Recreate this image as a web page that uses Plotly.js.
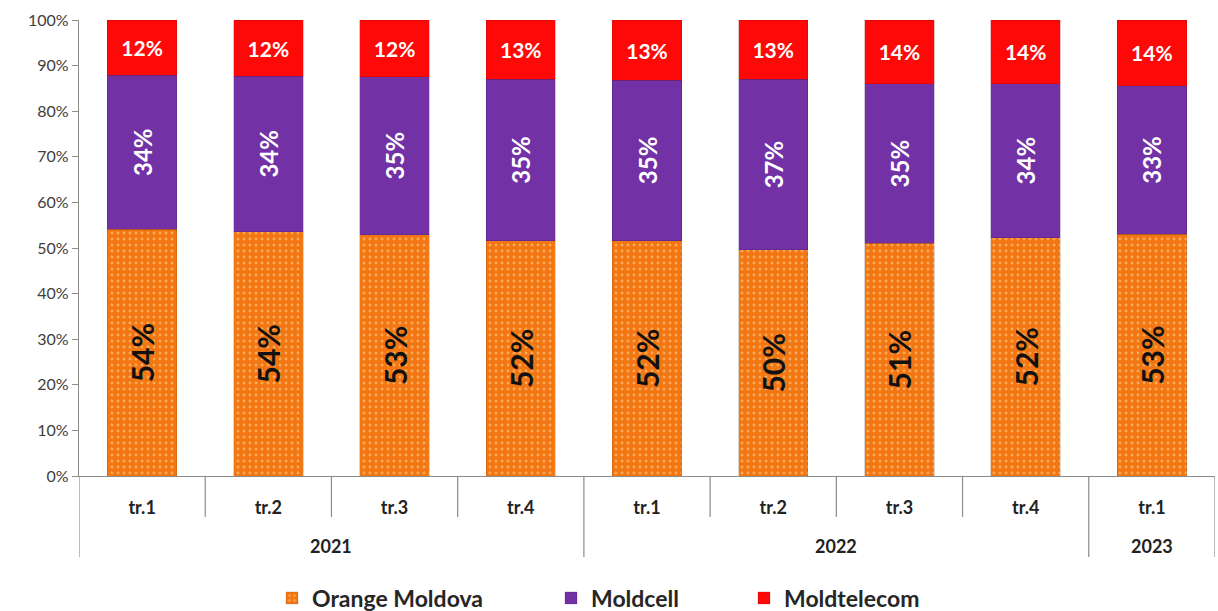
<!DOCTYPE html>
<html><head><meta charset="utf-8">
<script src="https://cdn.plot.ly/plotly-3.0.1.min.js"></script>
<style>html,body{margin:0;padding:0;background:#fff}#chart{width:1218px;height:611px}</style>
</head><body><div id="chart"></div>
<script>
// ---- data ----
const quarters = ['tr.1','tr.2','tr.3','tr.4','tr.1','tr.2','tr.3','tr.4','tr.1'];
const years = ['2021','2021','2021','2021','2022','2022','2022','2022','2023'];
const orangeMoldova = [54.1, 53.6, 52.9, 51.6, 51.6, 49.6, 51.0, 52.3, 53.0];
const moldcell = [33.8, 34.1, 34.7, 35.4, 35.2, 37.4, 35.0, 33.7, 32.6];
const moldtelecom = [12.1, 12.3, 12.4, 13.0, 13.2, 13.0, 14.0, 14.0, 14.4];
const seriesNames = ['Orange Moldova', 'Moldcell', 'Moldtelecom'];
const yTickValues = [0,10,20,30,40,50,60,70,80,90,100];

// ---- styles ----
const FONT = 'Lato, "Open Sans", sans-serif';
const colors = ['#f27612', '#7232a6', '#ff0808'];
const xIdx = quarters.map((_, i) => i);

const L = 79, R = 3, T = 20, B = 135, W = 1218, H = 611;
const pw = W - L - R, ph = H - T - B;
const px2x = p => (p - L) / pw;
const px2y = p => (H - B - p) / ph;

function barTrace(vals, k, angle, tcolor, tsize, legendId) {
  return {
    type: 'bar', x: xIdx, y: vals, name: seriesNames[k],
    legend: legendId,
    marker: { color: colors[k], line: { color: 'rgba(120,50,0,0.35)', width: 0.6 } },
    texttemplate: '%{y:.0f}%', textposition: 'inside', insidetextanchor: 'middle',
    textangle: angle,
    textfont: { family: FONT, size: tsize, color: tcolor, weight: 700 },
    hoverinfo: 'skip'
  };
}

const tr0 = barTrace(orangeMoldova, 0, -90, '#111', 30, 'legend');
tr0.marker.pattern = { shape: '.', fillmode: 'overlay', bgcolor: colors[0], fgcolor: '#ffc07a', fgopacity: 0.7, size: 6, solidity: 0.18 };
const tr1 = barTrace(moldcell, 1, -90, '#ffffff', 24, 'legend2');
tr1.marker.line = { color: 'rgba(60,20,100,0.4)', width: 0.6 };
const tr2 = barTrace(moldtelecom, 2, 0, '#ffffff', 21, 'legend3');
tr2.marker.line = { color: 'rgba(150,0,0,0.4)', width: 0.6 };

// ---- dividers & year labels (computed from category arrays) ----
const shapes = [];
const annotations = [];
const divCol = '#8c8c8c';
const qDepth = px2y(517), yDepth = px2y(557);
shapes.push({ type: 'line', xref: 'x', yref: 'paper', x0: -0.5, x1: -0.5, y0: 0, y1: yDepth, line: { color: divCol, width: 1.2 } });
for (let i = 1; i <= quarters.length; i++) {
  const yearBoundary = (i === quarters.length) || years[i] !== years[i - 1];
  shapes.push({ type: 'line', xref: 'x', yref: 'paper', x0: i - 0.5, x1: i - 0.5, y0: 0,
    y1: yearBoundary ? yDepth : qDepth, line: { color: divCol, width: 1.2 } });
}
let start = 0;
for (let i = 1; i <= years.length; i++) {
  if (i === years.length || years[i] !== years[start]) {
    annotations.push({ xref: 'x', yref: 'paper', x: (start + i - 1) / 2, y: px2y(546),
      text: years[start], showarrow: false, xanchor: 'center', yanchor: 'middle',
      font: { family: FONT, size: 18, color: '#222', weight: 700 } });
    start = i;
  }
}

const legFont = { family: FONT, size: 23, color: '#262626', weight: 700 };
const legBase = { orientation: 'h', yanchor: 'middle', xanchor: 'left', font: legFont,
  bgcolor: 'rgba(0,0,0,0)', itemwidth: 30, tracegroupgap: 0 };

const layout = {
  width: W, height: H,
  margin: { l: L, r: R, t: T, b: B, pad: 0, autoexpand: false },
  paper_bgcolor: '#ffffff', plot_bgcolor: '#ffffff',
  barmode: 'stack', bargap: 0.45,
  font: { family: FONT },
  xaxis: {
    range: [-0.5, quarters.length - 0.5], tickvals: xIdx, ticktext: quarters,
    ticks: '', ticklabelstandoff: 15, showgrid: false, zeroline: false, showline: true, linecolor: divCol, linewidth: 1.2,
    tickfont: { family: FONT, size: 18, color: '#222', weight: 700 }, fixedrange: true, automargin: false
  },
  yaxis: {
    range: [0, 100], tickvals: yTickValues, ticktext: yTickValues.map(v => v + '%'),
    ticks: 'outside', ticklen: 6, tickcolor: divCol, showgrid: false, zeroline: false,
    showline: true, linecolor: divCol, linewidth: 1.2,
    tickfont: { family: FONT, size: 16, color: '#404040' }, fixedrange: true, automargin: false
  },
  showlegend: true,
  legend: Object.assign({}, legBase, { x: px2x(272), y: px2y(598) }),
  legend2: Object.assign({}, legBase, { x: px2x(551), y: px2y(598) }),
  legend3: Object.assign({}, legBase, { x: px2x(744), y: px2y(598) }),
  shapes: shapes, annotations: annotations
};

Plotly.newPlot('chart', [tr0, tr1, tr2], layout, { displayModeBar: false, staticPlot: true });
</script>
</body></html>
